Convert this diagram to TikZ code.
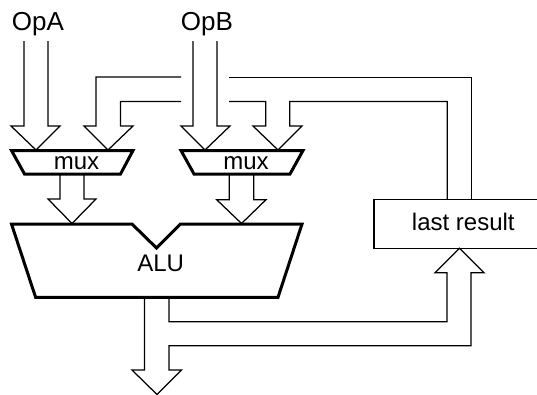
\documentclass[tikz,border=0pt]{standalone}
\usepackage{fontspec}
\setmainfont{Liberation Sans}
\tikzset{
  bus/.style={draw=black,line width=1.25pt,line join=miter},
  unit/.style={draw=black,line width=3pt,line join=miter,fill=white},
  lbl/.style={inner sep=0pt,text=black,anchor=base},
}
\begin{document}
\begin{tikzpicture}[x=1pt,y=-1pt]
\useasboundingbox (0,0) rectangle (537,394);
\clip (0,0) rectangle (537,394);
% bus outlines
\draw[bus] (24,41) -- (24,126) -- (11,126) -- (36,150) -- (60,126) -- (48,126) -- (48,41);
\draw[bus] (181,77) -- (96,77) -- (96,126) -- (84,126) -- (108,150) -- (133,126) -- (120.5,126) -- (120.5,101.5) -- (181,101.5);
\draw[bus] (193,41) -- (193,126) -- (181,126) -- (205,150) -- (230,126) -- (217,126) -- (217,41);
\draw[bus] (229,101.5) -- (265.7,101.5) -- (265.7,126) -- (253,126) -- (278,150) -- (302,126) -- (289.7,126) -- (289.7,101.5) -- (447.3,101.5) -- (447.3,199.7);
\draw[bus] (229,77.3) -- (471.3,77.3) -- (471.3,199.7);
\draw[bus] (60,174) -- (60,199) -- (48,199) -- (72,223.5) -- (96,199) -- (84,199) -- (84,174);
\draw[bus] (229.3,174) -- (229.3,199.7) -- (216.7,199.7) -- (241.5,223.5) -- (266,199.7) -- (253.7,199.7) -- (253.7,174);
\draw[bus] (169,297) -- (169,321.7) -- (447,321.7) -- (447,272.7) -- (435,272.7) -- (459.5,248.3) -- (484,272.7) -- (471,272.7) -- (471,345.7) -- (169,345.7) -- (169,370) -- (181.5,370) -- (157,394.5) -- (132,370) -- (144.5,370) -- (144.5,297);
% units
\node[lbl,font=\fontsize{26}{26}\selectfont] (opa) at (38,30) {OpA};
\node[lbl,font=\fontsize{26}{26}\selectfont] (opb) at (207,30) {OpB};
\draw[unit] (11.5,150.5) -- (133,150.5) -- (120.5,174) -- (24.5,174) -- cycle;
\draw[unit] (181,150.5) -- (303,150.5) -- (290,174) -- (194,174) -- cycle;
\node[lbl,font=\fontsize{24}{24}\selectfont] (muxa) at (76.5,169) {mux};
\node[lbl,font=\fontsize{24}{24}\selectfont] (muxb) at (246,169) {mux};
\draw[unit] (11.5,224) -- (132,224) -- (156.5,248) -- (180.5,224) -- (302,224) -- (278,297.3) -- (35.6,297.3) -- cycle;
\node[lbl,font=\fontsize{24}{24}\selectfont] (alu) at (160.6,271.7) {ALU};
\draw[bus] (374,199.7) rectangle (552,248.3);
\node[lbl,font=\fontsize{24}{24}\selectfont] (last) at (463.3,230.5) {last result};
\end{tikzpicture}
\end{document}
